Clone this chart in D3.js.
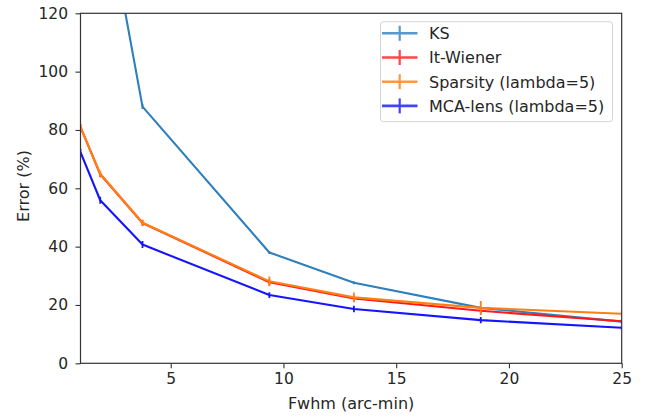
<!DOCTYPE html>
<html>
<head>
<meta charset="utf-8">
<script src="https://cdn.jsdelivr.net/npm/d3@7"></script>
<style>
  html, body { margin: 0; padding: 0; background: #fff; }
  svg { display: block; font-family: "DejaVu Sans", sans-serif; }
</style>
</head>
<body>
<svg id="chart" width="652" height="417"></svg>
<script>
// ---- data ----
const fwhm = [1, 1.875, 3.75, 9.375, 13.125, 18.75, 25];
const ks = [260, 167, 88, 38, 27.6, 19, 14.3];
const ksErr = [1, 1, 0.8, 0.5, 0.5, 0.5, 0.5];
const wiener = [81, 64.8, 48.1, 27.8, 22.2, 18.0, 14.4];
const wienerErr = [1, 1, 1, 1, 1, 1, 0.8];
const sparsity = [81, 65, 48.2, 28.1, 22.6, 19.0, 17.0];
const sparsityErr = [1, 1, 1, 1.7, 1.7, 2.4, 1];
const mca = [72.4, 55.9, 40.7, 23.4, 18.6, 14.8, 12.2];
const mcaErr = [1.2, 1.2, 1.2, 1, 1.1, 1.1, 0.8];
const seriesNames = ["KS", "It-Wiener", "Sparsity (lambda=5)", "MCA-lens (lambda=5)"];
const seriesColors = ["#2f7fbd", "#ff1a1a", "#ff7f15", "#1515ff"];
const xTicks = [5, 10, 15, 20, 25];
const yTicks = [0, 20, 40, 60, 80, 100, 120];
const xLabel = "Fwhm (arc-min)";
const yLabel = "Error (%)";

const series = [
  {name: seriesNames[0], color: seriesColors[0], y: ks, e: ksErr},
  {name: seriesNames[1], color: seriesColors[1], y: wiener, e: wienerErr},
  {name: seriesNames[2], color: seriesColors[2], y: sparsity, e: sparsityErr},
  {name: seriesNames[3], color: seriesColors[3], y: mca, e: mcaErr}
];

// ---- layout ----
const W = 652, H = 417;
const m = {left: 80.5, right: 30.3, top: 13.3, bottom: 53.7};
const iw = W - m.left - m.right, ih = H - m.top - m.bottom;
const svg = d3.select("#chart");
const g = svg.append("g").attr("transform", `translate(${m.left},${m.top})`);

const x = d3.scaleLinear().domain([1, 25]).range([0, iw]);
const y = d3.scaleLinear().domain([0, 120]).range([ih, 0]);

svg.append("defs").append("clipPath").attr("id", "clip")
  .append("rect").attr("x", 0).attr("y", 0).attr("width", iw).attr("height", ih);

const plot = g.append("g").attr("clip-path", "url(#clip)");
const line = d3.line().x((d, i) => x(fwhm[i])).y(d => y(d));

series.forEach(s => {
  const sg = plot.append("g");
  sg.append("path").datum(s.y)
    .attr("d", line)
    .attr("fill", "none")
    .attr("stroke", s.color)
    .attr("stroke-width", 2.1)
    .attr("stroke-linejoin", "round");
  sg.selectAll("line.err").data(s.y).enter().append("line")
    .attr("class", "err")
    .attr("x1", (d, i) => x(fwhm[i]))
    .attr("x2", (d, i) => x(fwhm[i]))
    .attr("y1", (d, i) => y(d - s.e[i]))
    .attr("y2", (d, i) => y(d + s.e[i]))
    .attr("stroke", s.color)
    .attr("stroke-width", 1.8);
});

// ---- axes ----
const textColor = "#262626";
const xAxis = g.append("g").attr("transform", `translate(0,${ih})`)
  .call(d3.axisBottom(x).tickValues(xTicks).tickSize(5).tickPadding(5).tickFormat(d3.format("d")));
const yAxis = g.append("g")
  .call(d3.axisLeft(y).tickValues(yTicks).tickSize(5).tickPadding(7.5).tickFormat(d3.format("d")));
[xAxis, yAxis].forEach(a => {
  a.select(".domain").remove();
  a.selectAll(".tick line").attr("stroke", "#333").attr("stroke-width", 1.1);
  a.selectAll(".tick text").attr("fill", textColor).style("font-size", "15.5px")
    .style("font-family", "'DejaVu Sans', sans-serif");
});

// frame
g.append("rect").attr("x", 0).attr("y", 0).attr("width", iw).attr("height", ih)
  .attr("fill", "none").attr("stroke", "#333").attr("stroke-width", 1.2);

// labels
svg.append("text").attr("x", m.left + iw / 2).attr("y", 408.5)
  .attr("text-anchor", "middle").attr("fill", textColor).style("font-size", "16px")
  .text(xLabel);
svg.append("text").attr("transform", `translate(29,186) rotate(-90)`)
  .attr("text-anchor", "middle").attr("fill", textColor).style("font-size", "16px")
  .text(yLabel);

// ---- legend ----
const lg = svg.append("g");
lg.append("rect").attr("x", 380.5).attr("y", 21.7).attr("width", 232).attr("height", 100)
  .attr("rx", 3).attr("fill", "#fff").attr("fill-opacity", 0.8)
  .attr("stroke", "#d5d5d5").attr("stroke-width", 1);
series.forEach((s, i) => {
  const cy = 33.3 + i * 24.2;
  const row = lg.append("g").attr("opacity", 0.8);
  row.append("line").attr("x1", 382).attr("x2", 417.5).attr("y1", cy).attr("y2", cy)
    .attr("stroke", s.color).attr("stroke-width", 2.6);
  row.append("line").attr("x1", 399.7).attr("x2", 399.7).attr("y1", cy - 7.5).attr("y2", cy + 7.5)
    .attr("stroke", s.color).attr("stroke-width", 2.2);
  lg.append("text").attr("x", 429).attr("y", cy + 5.8)
    .attr("fill", textColor).style("font-size", "16px").text(s.name);
});
</script>
</body>
</html>
